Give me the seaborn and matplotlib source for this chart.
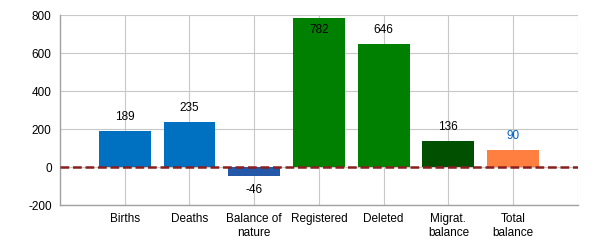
import matplotlib
matplotlib.use("Agg")
import matplotlib.pyplot as plt
import seaborn as sns
import pandas as pd

categories = ["Births", "Deaths", "Balance of\nnature", "Registered", "Deleted", "Migrat.\nbalance", "Total\nbalance"]
values = [189, 235, -46, 782, 646, 136, 90]
colors = ["#0070C0", "#0070C0", "#2358A8", "#008000", "#008000", "#005000", "#FF7F40"]
label_colors = ["#000000", "#000000", "#000000", "#000000", "#000000", "#000000", "#0060C0"]
yticks = [-200, 0, 200, 400, 600, 800]

sns.set_style("white")
plt.rcParams['font.family'] = ['Liberation Sans', 'DejaVu Sans']

df = pd.DataFrame({"cat": categories, "val": values})

fig = plt.figure(figsize=(6, 2.5), dpi=100)
ax = fig.add_axes([0.1, 0.18, 0.863, 0.76])

sns.barplot(data=df, x="cat", y="val", hue="cat", palette=colors, legend=False,
            width=0.8, saturation=1, linewidth=0, ax=ax, zorder=3)

ax.set_xlim(-1, 7)
ax.set_ylim(-200, 800)
ax.set_yticks(yticks)
ax.set_yticklabels([str(t) for t in yticks])
ax.set_xticks(list(range(len(categories))) + [7])
ax.set_xticklabels(categories + [""])
ax.set_xlabel("")
ax.set_ylabel("")

ax.grid(True, color="#C8C8C8", linewidth=0.8, zorder=0)
ax.set_axisbelow(True)
for s in ["top", "right"]:
    ax.spines[s].set_visible(False)
for s in ["left", "bottom"]:
    ax.spines[s].set_color("#A0A0A0")
    ax.spines[s].set_linewidth(1)
ax.tick_params(axis="both", length=4, color="#606060", labelsize=8.5, direction="out", pad=2,
               labelcolor="#000000")

ax.axhline(0, color="#8B1E1E", linestyle=(0, (3.5, 1.5)), linewidth=1.8, zorder=4)

for i, (v, lc) in enumerate(zip(values, label_colors)):
    if v >= 700:
        off = -8
    elif v >= 0:
        off = 10
    else:
        off = -10
    ax.annotate(str(v), xy=(i, v), xytext=(0, off), textcoords="offset points",
                ha="center", va="center", fontsize=8.5, color=lc, zorder=5)

fig.savefig("out.png", dpi=100)
